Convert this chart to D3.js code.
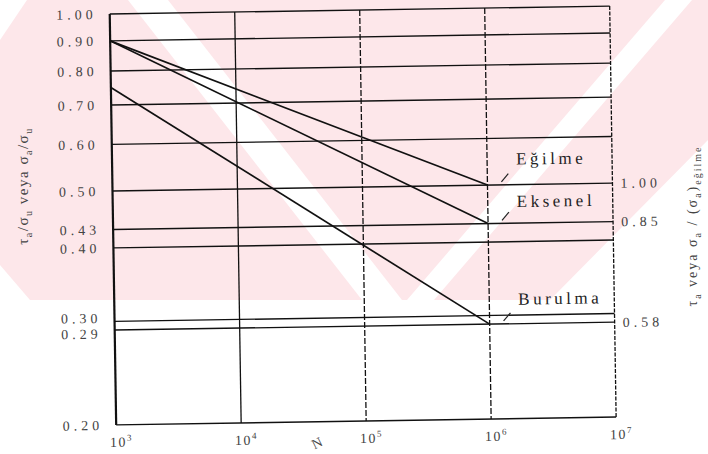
<!DOCTYPE html>
<html>
<head>
<meta charset="utf-8">
<script src="https://cdn.jsdelivr.net/npm/d3@7/dist/d3.min.js"></script>
<style>
  body { margin: 0; background: #fff; }
  text { font-family: "Liberation Serif", "Times New Roman", "DejaVu Serif", serif; }
  .tick-label { fill: #444; font-size: 14px; letter-spacing: 4px; }
  .note { fill: #222; font-size: 17px; letter-spacing: 3.5px; }
</style>
</head>
<body>
<div id="chart"></div>
<script>
// cycle ticks (log scale)
var xTicks = [1e3, 1e4, 1e5, 1e6, 1e7];
var xTickExp = ["3", "4", "5", "6", "7"];

// left axis: ratio to ultimate strength
var yTicks = [1.00, 0.90, 0.80, 0.70, 0.60, 0.50, 0.43, 0.40, 0.30, 0.29, 0.20];
var yTickLabels = ["1.00", "0.90", "0.80", "0.70", "0.60", "0.50", "0.43", "0.40", "0.30", "0.29", "0.20"];

// right axis: ratio to bending endurance limit
var rightTicks = [0.50, 0.43, 0.29];
var rightTickLabels = ["1.00", "0.85", "0.58"];

// S-N lines (N, ratio)
var egilme = [{n: 1e3, v: 0.90}, {n: 1e6, v: 0.50}];
var eksenel = [{n: 1e3, v: 0.90}, {n: 1e6, v: 0.43}];
var burulma = [{n: 1e3, v: 0.75}, {n: 1e6, v: 0.29}];

var seriesNames = ["Eğilme", "Eksenel", "Burulma"];

var W = 708, H = 454;
var SERIF = "Liberation Serif";

var svg = d3.select("#chart").append("svg")
  .attr("width", W)
  .attr("height", H);

// pale watermark of the scanned page
var bg = svg.append("g");
bg.append("polygon")
  .attr("points", "27,0 708,0 708,140 550,300 30,300 0,265 0,40")
  .attr("fill", "#fde7ea");
bg.append("polygon")
  .attr("points", "128,0 168,0 402,300 362,300")
  .attr("fill", "#fff");
bg.append("polygon")
  .attr("points", "665,0 692,0 434,300 407,300")
  .attr("fill", "#fff");

var x = d3.scaleLog()
  .domain([1e3, 1e7])
  .range([113, 613]);

var y = d3.scaleLog()
  .domain([0.20, 1.00])
  .range([421, 10]);

// the scan is tilted a little
var g = svg.append("g").attr("transform", "rotate(-0.9,363,220)");

// horizontal grid
g.selectAll("line.h")
  .data(yTicks)
  .enter().append("line")
  .attr("class", "h")
  .attr("x1", x(1e3))
  .attr("x2", x(1e7))
  .attr("y1", function(d) { return y(d); })
  .attr("y2", function(d) { return y(d); })
  .attr("stroke", "#111")
  .attr("stroke-width", 1.4);

// vertical grid
g.selectAll("line.v")
  .data(xTicks)
  .enter().append("line")
  .attr("class", "v")
  .attr("x1", function(d) { return x(d); })
  .attr("x2", function(d) { return x(d); })
  .attr("y1", y(1.00))
  .attr("y2", y(0.20))
  .attr("stroke", "#111")
  .attr("stroke-width", function(d, i) { return i == 0 ? 2.2 : 1.3; })
  .attr("stroke-dasharray", function(d, i) { return i < 2 ? null : (i == 4 ? "4,1.5" : "6,2"); });

// left tick labels
g.selectAll("text.yl")
  .data(yTicks)
  .enter().append("text")
  .attr("class", "tick-label")
  .attr("font-family", SERIF)
  .attr("x", 100)
  .attr("y", function(d) { return y(d); })
  .attr("dy", function(d) { return d == 0.30 ? "0.1em" : (d == 0.29 ? "0.6em" : "0.35em"); })
  .attr("text-anchor", "end")
  .text(function(d, i) { return yTickLabels[i]; });

// right tick labels
g.selectAll("text.yr")
  .data(rightTicks)
  .enter().append("text")
  .attr("class", "tick-label")
  .attr("font-family", SERIF)
  .attr("x", 621)
  .attr("y", function(d) { return y(d); })
  .attr("dy", "0.35em")
  .text(function(d, i) { return rightTickLabels[i]; });

// bottom tick labels 10^n
var xl = g.selectAll("text.xl")
  .data(xTicks)
  .enter().append("text")
  .attr("class", "tick-label")
  .attr("font-family", SERIF)
  .attr("x", function(d) { return x(d) + 5; })
  .attr("y", 443)
  .attr("text-anchor", "middle")
  .style("letter-spacing", "1.5px");
xl.append("tspan").text("10");
xl.append("tspan")
  .attr("dy", -6)
  .style("font-size", "9px")
  .text(function(d, i) { return xTickExp[i]; });

var nx = (x(1e4) + x(1e5)) / 2 + 15;
g.append("text")
  .attr("class", "tick-label")
  .attr("font-family", SERIF)
  .attr("x", nx)
  .attr("y", 446)
  .attr("text-anchor", "middle")
  .attr("transform", "rotate(-25," + nx + ",442)")
  .text("N");

// curves
var line = d3.line()
  .x(function(d) { return x(d.n); })
  .y(function(d) { return y(d.v); });

[egilme, eksenel, burulma].forEach(function(s) {
  g.append("path")
    .datum(s)
    .attr("d", line)
    .attr("fill", "none")
    .attr("stroke", "#111")
    .attr("stroke-width", 1.7);
});

// series notes with small leaders
var ends = [egilme[1], eksenel[1], burulma[1]];
var noteDy = [-20, -16, -19];
ends.forEach(function(d, i) {
  var px = x(d.n), py = y(d.v);
  g.append("line")
    .attr("x1", px + 14)
    .attr("y1", py - 3)
    .attr("x2", px + 21)
    .attr("y2", py - 11)
    .attr("stroke", "#222")
    .attr("stroke-width", 1.2);
  g.append("text")
    .attr("class", "note")
    .attr("font-family", SERIF)
    .attr("x", px + 29)
    .attr("y", py + noteDy[i])
    .text(seriesNames[i]);
});

// axis titles
var lt = svg.append("text")
  .attr("class", "tick-label")
  .attr("font-family", SERIF)
  .attr("transform", "translate(28,186) rotate(-90)")
  .attr("text-anchor", "middle")
  .style("font-size", "15px")
  .style("letter-spacing", "1.5px");
lt.append("tspan").text("τ");
lt.append("tspan").attr("dy", 4).style("font-size", "10px").text("a");
lt.append("tspan").attr("dy", -4).text("/σ");
lt.append("tspan").attr("dy", 4).style("font-size", "10px").text("u");
lt.append("tspan").attr("dy", -4).text(" veya σ");
lt.append("tspan").attr("dy", 4).style("font-size", "10px").text("a");
lt.append("tspan").attr("dy", -4).text("/σ");
lt.append("tspan").attr("dy", 4).style("font-size", "10px").text("u");

var rt = svg.append("text")
  .attr("class", "tick-label")
  .attr("font-family", SERIF)
  .attr("transform", "translate(697,226) rotate(-90)")
  .attr("text-anchor", "middle")
  .style("letter-spacing", "2px");
rt.append("tspan").text("τ");
rt.append("tspan").attr("dy", 4).style("font-size", "10px").text("a");
rt.append("tspan").attr("dy", -4).text(" veya σ");
rt.append("tspan").attr("dy", 4).style("font-size", "10px").text("a");
rt.append("tspan").attr("dy", -4).text(" / (σ");
rt.append("tspan").attr("dy", 4).style("font-size", "10px").text("a");
rt.append("tspan").attr("dy", -4).text(")");
rt.append("tspan").attr("dy", 4).style("font-size", "10px").text("eğilme");
</script>
</body>
</html>
